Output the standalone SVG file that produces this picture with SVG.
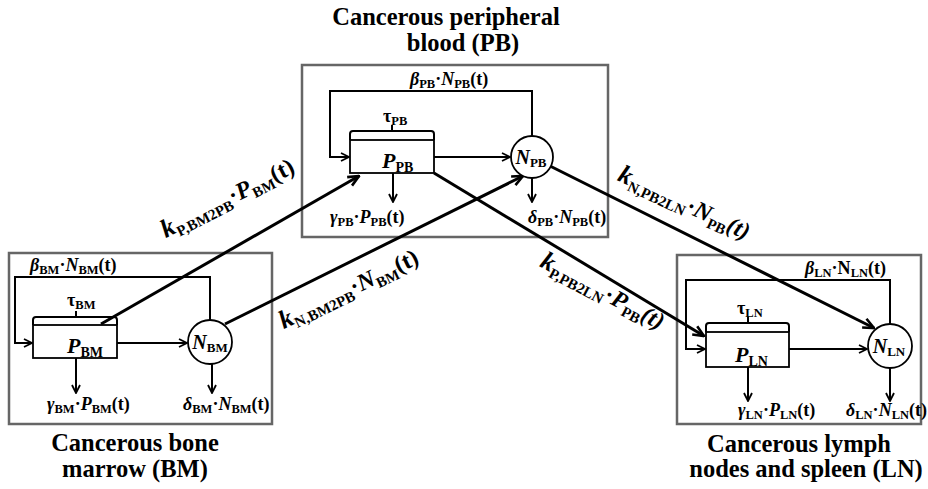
<svg xmlns="http://www.w3.org/2000/svg" width="928" height="489" viewBox="0 0 928 489">
<style>
text{font-family:"Liberation Serif","Times New Roman",serif;font-weight:bold;fill:#000}
.title{font-size:24.5px;text-anchor:middle}
.frame{fill:none;stroke:#666;stroke-width:2.5}
.ln{fill:none;stroke:#000;stroke-width:2}
.arr{marker-end:url(#ah)}
.diag{fill:none;stroke:#000;stroke-width:3;marker-end:url(#ahL)}
.box{fill:#fff;stroke:#000;stroke-width:1.8}
.it{font-style:italic}
.lab{font-size:18px}
.lab .sb{font-size:12.5px}
.pl{font-size:22px}
.pl .sb{font-size:14px}
.nl{font-size:20px;text-anchor:middle}
.nl .sb{font-size:13px}
.kl{font-size:24px;text-anchor:middle}
.kl .sb{font-size:15px}
.kl .k{font-size:26px}
</style>
<defs>
<marker id="ah" viewBox="0 0 10 10" refX="9" refY="5" markerWidth="10" markerHeight="10" markerUnits="userSpaceOnUse" orient="auto">
<path d="M1,1 L9,5 L1,9" fill="none" stroke="#000" stroke-width="1.8"/>
</marker>
<marker id="ahL" viewBox="0 0 12 12" refX="11" refY="6" markerWidth="13" markerHeight="13" markerUnits="userSpaceOnUse" orient="auto">
<path d="M1,1.5 L11,6 L1,10.5" fill="none" stroke="#000" stroke-width="2.4"/>
</marker>
</defs>

<!-- compartments -->
<g id="bm">
<rect class="frame" x="9" y="253" width="263" height="171"/>
<text class="title" x="135" y="451">Cancerous bone</text>
<text class="title" x="135" y="477">marrow (BM)</text>
</g>
<g id="pb">
<rect class="frame" x="302" y="65" width="306" height="172"/>
<text class="title" x="446" y="25">Cancerous peripheral</text>
<text class="title" x="463" y="51">blood (PB)</text>
</g>
<g id="ln">
<rect class="frame" x="677" y="255" width="244" height="169"/>
<text class="title" x="799" y="452">Cancerous lymph</text>
<text class="title" x="806" y="477">nodes and spleen (LN)</text>
</g>

<!-- flows -->
<g id="connectors">
<!-- bone marrow -->
<path class="ln arr" d="M210,320 V277 H15 V343 H32"/>
<path class="ln arr" d="M117,343 H187"/>
<path class="ln arr" d="M76,358 V393"/>
<path class="ln arr" d="M212,364 V393"/>
<text class="lab" x="30" y="271"><tspan class="it">β</tspan><tspan class="sb" dy="3">BM</tspan><tspan dy="-3">·</tspan><tspan class="it">N</tspan><tspan class="sb" dy="3">BM</tspan><tspan dy="-3">(t)</tspan></text>
<text class="lab" x="47" y="410"><tspan class="it">γ</tspan><tspan class="sb" dy="3">BM</tspan><tspan dy="-3">·</tspan><tspan class="it">P</tspan><tspan class="sb" dy="3">BM</tspan><tspan dy="-3">(t)</tspan></text>
<text class="lab" x="183" y="410"><tspan class="it">δ</tspan><tspan class="sb" dy="3">BM</tspan><tspan dy="-3">·</tspan><tspan class="it">N</tspan><tspan class="sb" dy="3">BM</tspan><tspan dy="-3">(t)</tspan></text>
<text class="lab" x="67" y="306">τ<tspan class="sb" dy="3">BM</tspan></text>

<!-- peripheral blood -->
<path class="ln arr" d="M532,136 V91 H330 V157 H349"/>
<path class="ln arr" d="M434,157 H510"/>
<path class="ln arr" d="M393,173 V202"/>
<path class="ln arr" d="M532,178 V202"/>
<text class="lab" x="410" y="85"><tspan class="it">β</tspan><tspan class="sb" dy="3">PB</tspan><tspan dy="-3">·</tspan><tspan class="it">N</tspan><tspan class="sb" dy="3">PB</tspan><tspan dy="-3">(t)</tspan></text>
<text class="lab" x="330" y="223"><tspan class="it">γ</tspan><tspan class="sb" dy="3">PB</tspan><tspan dy="-3">·</tspan><tspan class="it">P</tspan><tspan class="sb" dy="3">PB</tspan><tspan dy="-3">(t)</tspan></text>
<text class="lab" x="528" y="223"><tspan class="it">δ</tspan><tspan class="sb" dy="3">PB</tspan><tspan dy="-3">·</tspan><tspan class="it">N</tspan><tspan class="sb" dy="3">PB</tspan><tspan dy="-3">(t)</tspan></text>
<text class="lab" x="383" y="122">τ<tspan class="sb" dy="3">PB</tspan></text>

<!-- lymph nodes and spleen -->
<path class="ln arr" d="M890,324 V280 H686 V349 H705"/>
<path class="ln arr" d="M789,349 H867"/>
<path class="ln arr" d="M748,367 V401"/>
<path class="ln arr" d="M890,368 V401"/>
<text class="lab" x="805" y="274"><tspan class="it">β</tspan><tspan class="sb" dy="3">LN</tspan><tspan dy="-3">·N</tspan><tspan class="sb" dy="3">LN</tspan><tspan dy="-3">(t)</tspan></text>
<text class="lab" x="738" y="416"><tspan class="it">γ</tspan><tspan class="sb" dy="3">LN</tspan><tspan dy="-3">·</tspan><tspan class="it">P</tspan><tspan class="sb" dy="3">LN</tspan><tspan dy="-3">(t)</tspan></text>
<text class="lab" x="846" y="416"><tspan class="it">δ</tspan><tspan class="sb" dy="3">LN</tspan><tspan dy="-3">·</tspan><tspan class="it">N</tspan><tspan class="sb" dy="3">LN</tspan><tspan dy="-3">(t)</tspan></text>
<text class="lab" x="737" y="314">τ<tspan class="sb" dy="3">LN</tspan></text>

<!-- transfers between compartments -->
<path class="diag" d="M101,324 L359,176"/>
<path class="diag" d="M225,324 L523,176"/>
<path class="diag" d="M434,173 L704,336"/>
<path class="diag" d="M550,166 L874,328"/>
<text class="kl" transform="translate(231,205) rotate(-27)"><tspan class="k it">k</tspan><tspan class="sb" dy="5">P,BM2PB</tspan><tspan dy="-5">·</tspan><tspan class="it">P</tspan><tspan class="sb" dy="5">BM</tspan><tspan dy="-5">(t)</tspan></text>
<text class="kl" transform="translate(352,296) rotate(-26)"><tspan class="k it">k</tspan><tspan class="sb" dy="5">N,BM2PB</tspan><tspan dy="-5">·</tspan><tspan class="it">N</tspan><tspan class="sb" dy="5">BM</tspan><tspan dy="-5">(t)</tspan></text>
<text class="kl" transform="translate(599,298) rotate(28)"><tspan class="k it">k</tspan><tspan class="sb" dy="5">P,PB2LN</tspan><tspan dy="-5">·</tspan><tspan class="it">P</tspan><tspan class="sb" dy="5">PB</tspan><tspan dy="-5" class="it">(t)</tspan></text>
<text class="kl" transform="translate(681,210) rotate(25)"><tspan class="k it">k</tspan><tspan class="sb" dy="5">N,PB2LN</tspan><tspan dy="-5">·</tspan><tspan class="it">N</tspan><tspan class="sb" dy="5">PB</tspan><tspan dy="-5" class="it">(t)</tspan></text>
</g>

<!-- cell populations -->
<g id="p-bm">
<path class="ln" d="M33,325 V320 Q33,317 36,317 H114 Q117,317 117,320 V325 M76,317 V311"/>
<rect class="box" x="33" y="325" width="84" height="33"/>
<text class="pl" x="67" y="353"><tspan class="it">P</tspan><tspan class="sb" dy="4">BM</tspan></text>
</g>
<g id="n-bm">
<circle class="box" cx="210" cy="342" r="22"/>
<text class="nl" x="210" y="349"><tspan class="it">N</tspan><tspan class="sb" dy="3">BM</tspan></text>
</g>
<g id="p-pb">
<path class="ln" d="M350,140 V134 Q350,131 353,131 H431 Q434,131 434,134 V140 M392,131 V125"/>
<rect class="box" x="350" y="140" width="84" height="33"/>
<text class="pl" x="382" y="168"><tspan class="it">P</tspan><tspan class="sb" dy="4">PB</tspan></text>
</g>
<g id="n-pb">
<circle class="box" cx="532" cy="157" r="21"/>
<text class="nl" x="531" y="164"><tspan class="it">N</tspan><tspan class="sb" dy="3">PB</tspan></text>
</g>
<g id="p-ln">
<path class="ln" d="M706,332 V326 Q706,323 709,323 H786 Q789,323 789,326 V332 M748,323 V317"/>
<rect class="box" x="706" y="332" width="83" height="35"/>
<text class="pl" x="735" y="362"><tspan class="it">P</tspan><tspan class="sb" dy="4">LN</tspan></text>
</g>
<g id="n-ln">
<circle class="box" cx="890" cy="346" r="22"/>
<text class="nl" x="889" y="353"><tspan class="it">N</tspan><tspan class="sb" dy="3">LN</tspan></text>
</g>
</svg>
